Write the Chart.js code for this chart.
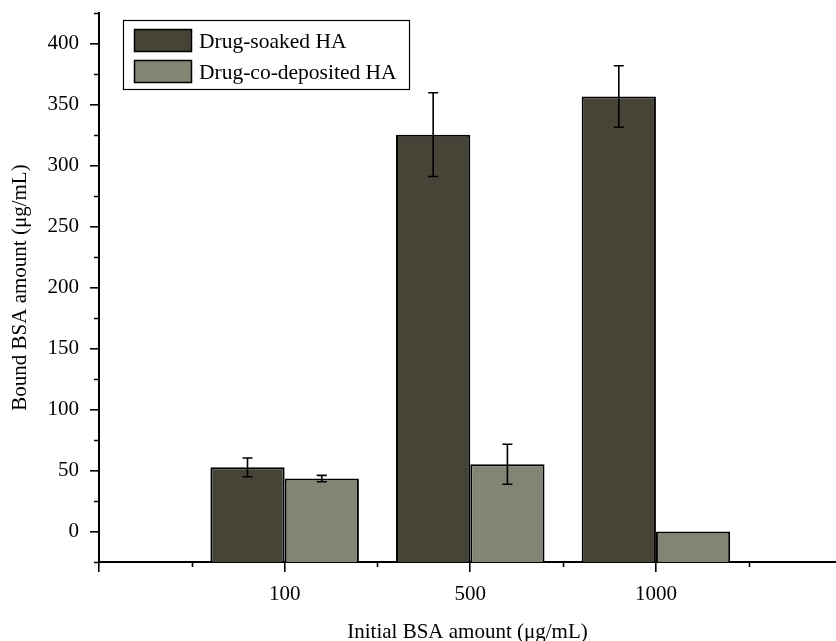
<!DOCTYPE html>
<html>
<head>
<meta charset="utf-8">
<script src="https://cdn.jsdelivr.net/npm/chart.js@4/dist/chart.umd.min.js"></script>
<style>
  html, body { margin: 0; padding: 0; background: #fff; }
  #wrap { width: 836px; height: 641px; position: relative; }
</style>
</head>
<body>
<div id="wrap"><canvas id="c" width="836" height="641"></canvas></div>
<script>
// ---- data ----
const categories = ['100', '500', '1000'];
const categoryPositions = [1, 2, 3];
const seriesNames = ['Drug-soaked HA', 'Drug-co-deposited HA'];
const soakedValues = [52.6, 325.3, 356.6];
const soakedErrors = [7.7, 34.3, 25.2];
const codepValues = [43.4, 55.1, 0];
const codepErrors = [2.6, 16.4, 0];
const yTicks = [0, 50, 100, 150, 200, 250, 300, 350, 400];
const xAxisTitle = 'Initial BSA amount (\u03bcg/mL)';
const yAxisTitle = 'Bound BSA amount (\u03bcg/mL)';

const colors = ['#464437', '#838474'];
const FONT = '"Liberation Serif", "Times New Roman", serif';
const Y_MIN = -25, Y_MAX = 425;

function pts(vals) { return vals.map((v, i) => ({ x: categoryPositions[i], y: v })); }

const errorBars = {
  id: 'errorBars',
  afterDatasetsDraw(chart) {
    const ctx = chart.ctx;
    const ys = chart.scales.y;
    const errs = [soakedErrors, codepErrors];
    ctx.save();
    ctx.strokeStyle = '#000';
    ctx.lineWidth = 1.6;
    chart.data.datasets.forEach((ds, di) => {
      const meta = chart.getDatasetMeta(di);
      meta.data.forEach((bar, i) => {
        const e = errs[di][i];
        if (!e) return;
        const v = ds.data[i].y;
        const top = ys.getPixelForValue(v + e);
        const bot = ys.getPixelForValue(v - e);
        const x = bar.x;
        const cw = 5;
        ctx.beginPath();
        ctx.moveTo(x, top); ctx.lineTo(x, bot);
        ctx.moveTo(x - cw, top); ctx.lineTo(x + cw, top);
        ctx.moveTo(x - cw, bot); ctx.lineTo(x + cw, bot);
        ctx.stroke();
      });
    });
    ctx.restore();
  }
};

const minorTicks = {
  id: 'minorTicks',
  afterDraw(chart) {
    const ctx = chart.ctx;
    const xs = chart.scales.x, ys = chart.scales.y;
    const area = chart.chartArea;
    ctx.save();
    ctx.strokeStyle = '#000';
    ctx.lineWidth = 1.6;
    ctx.beginPath();
    for (let k = 0; k < yTicks.length; k++) {
      const v = yTicks[k] - 25;
      if (v < Y_MIN) continue;
      const p = Math.round(ys.getPixelForValue(v)) + 0.5;
      ctx.moveTo(area.left - 5, p); ctx.lineTo(area.left, p);
    }
    const lastV = yTicks[yTicks.length - 1] + 25;
    if (lastV <= Y_MAX) {
      const p = Math.round(ys.getPixelForValue(lastV)) + 0.5;
      ctx.moveTo(area.left - 5, p); ctx.lineTo(area.left, p);
    }
    [0.5, 1.5, 2.5, 3.5].forEach(v => {
      const p = Math.round(xs.getPixelForValue(v)) + 0.5;
      ctx.moveTo(p, area.bottom); ctx.lineTo(p, area.bottom + 5);
    });
    ctx.stroke();
    // y axis title
    ctx.save();
    ctx.translate(20, (area.top + area.bottom) / 2);
    ctx.rotate(-Math.PI / 2);
    ctx.font = '21px ' + FONT;
    ctx.fillStyle = '#000';
    ctx.textAlign = 'center';
    ctx.textBaseline = 'middle';
    ctx.fillText(yAxisTitle, 0, 0);
    ctx.restore();
    ctx.restore();
  }
};

const boxLegend = {
  id: 'boxLegend',
  afterDraw(chart) {
    const ctx = chart.ctx;
    ctx.save();
    ctx.strokeStyle = '#000';
    ctx.lineWidth = 1.2;
    ctx.fillStyle = '#fff';
    ctx.fillRect(123, 20, 286, 69);
    ctx.strokeRect(123.5, 20.5, 286, 69);
    ctx.font = '21.5px ' + FONT;
    ctx.textBaseline = 'middle';
    chart.data.datasets.forEach((ds, i) => {
      const y = 29 + i * 31;
      ctx.fillStyle = ds.backgroundColor;
      ctx.fillRect(134, y, 57, 22);
      ctx.lineWidth = 1.5;
      ctx.strokeStyle = '#000';
      ctx.strokeRect(134.5, y + 0.5, 57, 22);
      ctx.fillStyle = '#000';
      ctx.fillText(ds.label, 199, y + 13);
    });
    ctx.restore();
  }
};

new Chart(document.getElementById('c'), {
  type: 'bar',
  data: {
    datasets: [
      { label: seriesNames[0], data: pts(soakedValues), backgroundColor: colors[0], borderColor: '#000', borderWidth: 2, base: Y_MIN },
      { label: seriesNames[1], data: pts(codepValues), backgroundColor: colors[1], borderColor: '#000', borderWidth: 2, base: Y_MIN }
    ]
  },
  options: {
    responsive: false,
    animation: false,
    devicePixelRatio: 1,
    categoryPercentage: 0.8,
    barPercentage: 1.0,
    layout: { padding: { top: 13, right: 0, left: 0, bottom: 0 } },
    plugins: { legend: { display: false }, tooltip: { enabled: false } },
    scales: {
      x: {
        type: 'linear',
        offset: false,
        min: 0,
        max: 3.97,
        afterFit(s) { s.height = 79; s.paddingLeft = 0; s.paddingRight = 0; },
        border: { color: '#000', width: 2 },
        grid: { offset: false, drawOnChartArea: false, drawTicks: true, tickLength: 10, tickColor: '#000', lineWidth: 1.6 },
        ticks: {
          stepSize: 1,
          includeBounds: false,
          autoSkip: false,
          maxRotation: 0,
          padding: 10,
          color: '#000',
          font: { family: FONT, size: 21 },
          callback(v) { const i = categoryPositions.indexOf(v); return i >= 0 ? categories[i] : ''; }
        },
        title: { display: true, text: xAxisTitle, color: '#000', font: { family: FONT, size: 21, lineHeight: 1 }, padding: { top: 0, bottom: -2 } }
      },
      y: {
        min: Y_MIN,
        max: Y_MAX,
        afterFit(s) { s.width = 99; s.paddingTop = 0; s.paddingBottom = 0; },
        afterBuildTicks(s) { s.ticks = yTicks.map(v => ({ value: v })); },
        border: { color: '#000', width: 2 },
        grid: { drawOnChartArea: false, drawTicks: true, tickLength: 9, tickColor: '#000', lineWidth: 1.6 },
        ticks: {
          padding: 11,
          color: '#000',
          font: { family: FONT, size: 21 }
        },
        title: { display: false, text: yAxisTitle }
      }
    }
  },
  plugins: [errorBars, minorTicks, boxLegend]
});
</script>
</body>
</html>
